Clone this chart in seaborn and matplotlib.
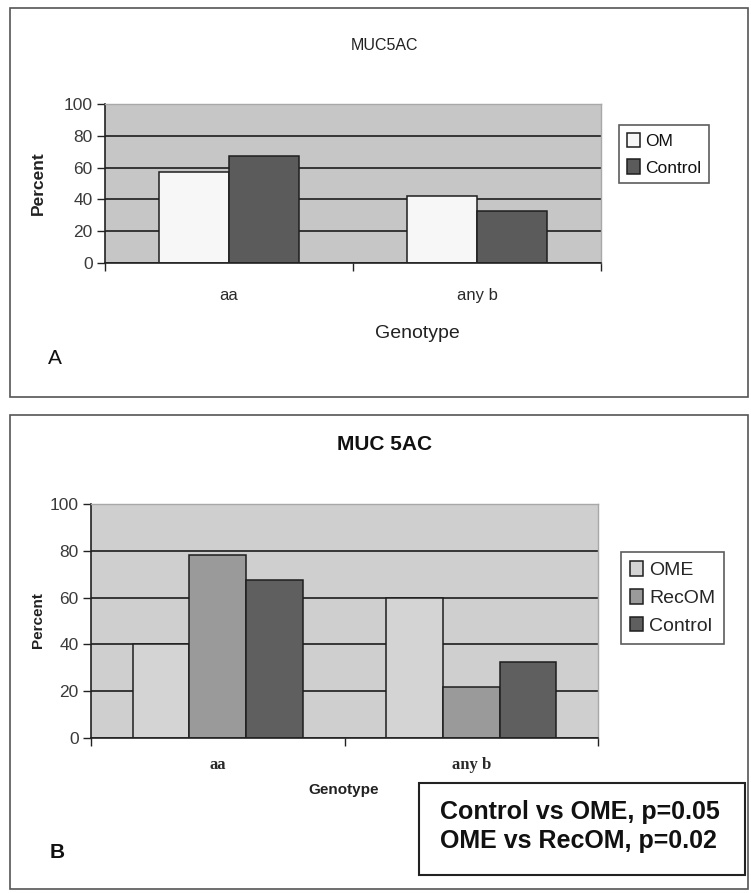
import matplotlib
matplotlib.use("Agg")
import matplotlib.pyplot as plt
from matplotlib import font_manager
from matplotlib.patches import Rectangle
import seaborn as sns
import pandas as pd

# ---------------- data ----------------
genotypes = ["aa", "any b"]
groups_a = ["OM", "Control"]
om_a = [57.5, 42.0]        # OM: aa, any b
ctrl_a = [67.0, 32.5]      # Control: aa, any b

groups_b = ["OME", "RecOM", "Control"]
ome_b = [40.0, 60.0]
recom_b = [78.0, 22.0]
ctrl_b = [67.5, 32.5]

yticks = [0, 20, 40, 60, 80, 100]
title_a = "MUC5AC"
title_b = "MUC 5AC"
stats_lines = ["Control vs OME, p=0.05", "OME vs RecOM, p=0.02"]

df_a = pd.DataFrame({
    "Genotype": genotypes * 2,
    "Group": [groups_a[0]] * 2 + [groups_a[1]] * 2,
    "Percent": om_a + ctrl_a,
})
df_b = pd.DataFrame({
    "Genotype": genotypes * 3,
    "Group": [groups_b[0]] * 2 + [groups_b[1]] * 2 + [groups_b[2]] * 2,
    "Percent": ome_b + recom_b + ctrl_b,
})

# ---------------- style ----------------
sns.set_style("white")
names = {f.name for f in font_manager.fontManager.ttflist}
NARROW = "Liberation Sans Narrow" if "Liberation Sans Narrow" in names else "Liberation Sans"
plt.rcParams["font.family"] = ["Liberation Sans", "DejaVu Sans"]

W, H = 751, 893
fig = plt.figure(figsize=(W / 100, H / 100), dpi=100)
fig.patch.set_facecolor("white")


def fx(px):
    return px / W


def fy(py):
    return 1 - py / H


def frame(x0, y0, x1, y1, lw=1.2, ec="#555555"):
    fig.patches.append(Rectangle((fx(x0), fy(y1)), (x1 - x0) / W, (y1 - y0) / H,
                                 transform=fig.transFigure, fill=False,
                                 edgecolor=ec, linewidth=lw, zorder=0))


# outer frames
frame(10, 8, 748, 397)
frame(10, 415, 748, 889)


def style_axes(ax, bg, ticksize, tickfont, catfont, catsize, catweight, catpad):
    ax.set_facecolor(bg)
    ax.set_ylim(0, 100)
    ax.set_xlim(-0.5, 1.5)
    ax.set_yticks(yticks)
    ax.set_yticklabels([str(v) for v in yticks], fontsize=ticksize,
                       family=tickfont, color="#3a3a3a")
    ax.yaxis.grid(True, color="#2a2a2a", linewidth=1.3)
    ax.set_axisbelow(True)
    ax.tick_params(axis="y", direction="out", length=6, width=1,
                   color="#222222", left=True, pad=3)
    ax.set_xticks([0, 1])
    ax.set_xticklabels(genotypes, fontsize=catsize, family=catfont,
                       fontweight=catweight, color="#2a2a2a")
    ax.set_xticks([-0.5, 0.5, 1.5], minor=True)
    ax.tick_params(axis="x", which="major", length=0, pad=catpad)
    ax.tick_params(axis="x", which="minor", direction="out", length=6,
                   width=1, color="#222222", bottom=True)
    for s in ["left", "bottom"]:
        ax.spines[s].set_color("#222222")
        ax.spines[s].set_linewidth(1.2)
    for s in ["top", "right"]:
        ax.spines[s].set_color("#a8a8a8")
        ax.spines[s].set_linewidth(1.0)


# ---------------- panel A ----------------
axA = fig.add_axes([fx(105), fy(263), (601 - 105) / W, (263 - 104) / H])
pal_a = {"OM": "#f7f7f7", "Control": "#5b5b5b"}
sns.barplot(data=df_a, x="Genotype", y="Percent", hue="Group", order=genotypes,
            hue_order=groups_a, palette=pal_a, width=0.565, gap=0,
            edgecolor="#1e1e1e", linewidth=1.1, saturation=1, ax=axA,
            legend=True)
style_axes(axA, "#c6c6c6", 12.5, NARROW, NARROW, 12, "normal", 18)
axA.set_xlabel("Genotype", fontsize=14, color="#222222")
axA.xaxis.label.set_va("center")
axA.xaxis.set_label_coords((417 - 105) / 496, (263 - 333) / 159)
axA.set_ylabel("Percent", fontsize=12.5, fontweight="bold", color="#222222")
axA.yaxis.label.set_va("center")
axA.yaxis.set_label_coords((38 - 105) / 496, (263 - 183) / 159)
hA, lA = axA.get_legend_handles_labels()
axA.legend_.remove()
legA = fig.legend(hA, lA, loc="upper left",
                  bbox_to_anchor=(fx(619), fy(125)), bbox_transform=fig.transFigure,
                  frameon=True, fancybox=False, edgecolor="#333333",
                  fontsize=12.5, handlelength=0.75, handleheight=0.9,
                  handletextpad=0.3, borderpad=0.45, labelspacing=0.6,
                  borderaxespad=0)
legA.get_frame().set_linewidth(1.2)
for t in legA.get_texts():
    t.set_color("#111111")

fig.text(fx(385), fy(46), title_a, fontsize=11.5, ha="center", va="center",
         color="#222222")
fig.text(fx(55), fy(358), "A", fontsize=15, ha="center", va="center",
         color="#111111")

# ---------------- panel B ----------------
axB = fig.add_axes([fx(91), fy(738), (598 - 91) / W, (738 - 504) / H])
pal_b = {"OME": "#d4d4d4", "RecOM": "#9a9a9a", "Control": "#5f5f5f"}
sns.barplot(data=df_b, x="Genotype", y="Percent", hue="Group", order=genotypes,
            hue_order=groups_b, palette=pal_b, width=0.67, gap=0,
            edgecolor="#1e1e1e", linewidth=1.1, saturation=1, ax=axB,
            legend=True)
style_axes(axB, "#cfcfcf", 12.5, NARROW, "Liberation Serif", 12, "bold", 14)
axB.set_xlabel("Genotype", fontsize=11, fontweight="bold", color="#222222")
axB.xaxis.label.set_va("center")
axB.xaxis.set_label_coords((344 - 91) / 507, (738 - 790) / 234)
axB.set_ylabel("Percent", fontsize=11, fontweight="bold", color="#222222")
axB.yaxis.label.set_va("center")
axB.yaxis.set_label_coords((38 - 91) / 507, (738 - 620) / 234)
hB, lB = axB.get_legend_handles_labels()
axB.legend_.remove()
legB = fig.legend(hB, lB, loc="upper left",
                  bbox_to_anchor=(fx(621), fy(552)), bbox_transform=fig.transFigure,
                  frameon=True, fancybox=False, edgecolor="#333333",
                  fontsize=14, handlelength=0.7, handleheight=0.8,
                  handletextpad=0.3, borderpad=0.45, labelspacing=0.5,
                  borderaxespad=0)
legB.get_frame().set_linewidth(1.2)

fig.text(fx(385), fy(445), title_b, fontsize=15, fontweight="bold",
         ha="center", va="center", color="#111111")
fig.text(fx(57), fy(853), "B", fontsize=15, fontweight="bold", ha="center",
         va="center", color="#111111")

# statistics box
frame(419, 783, 745, 875, lw=1.5, ec="#222222")
fig.text(fx(440), fy(812), stats_lines[0], fontsize=18, fontweight="bold",
         ha="left", va="center", color="#111111")
fig.text(fx(440), fy(841), stats_lines[1], fontsize=18, fontweight="bold",
         ha="left", va="center", color="#111111")

fig.savefig("out.png", dpi=100)
